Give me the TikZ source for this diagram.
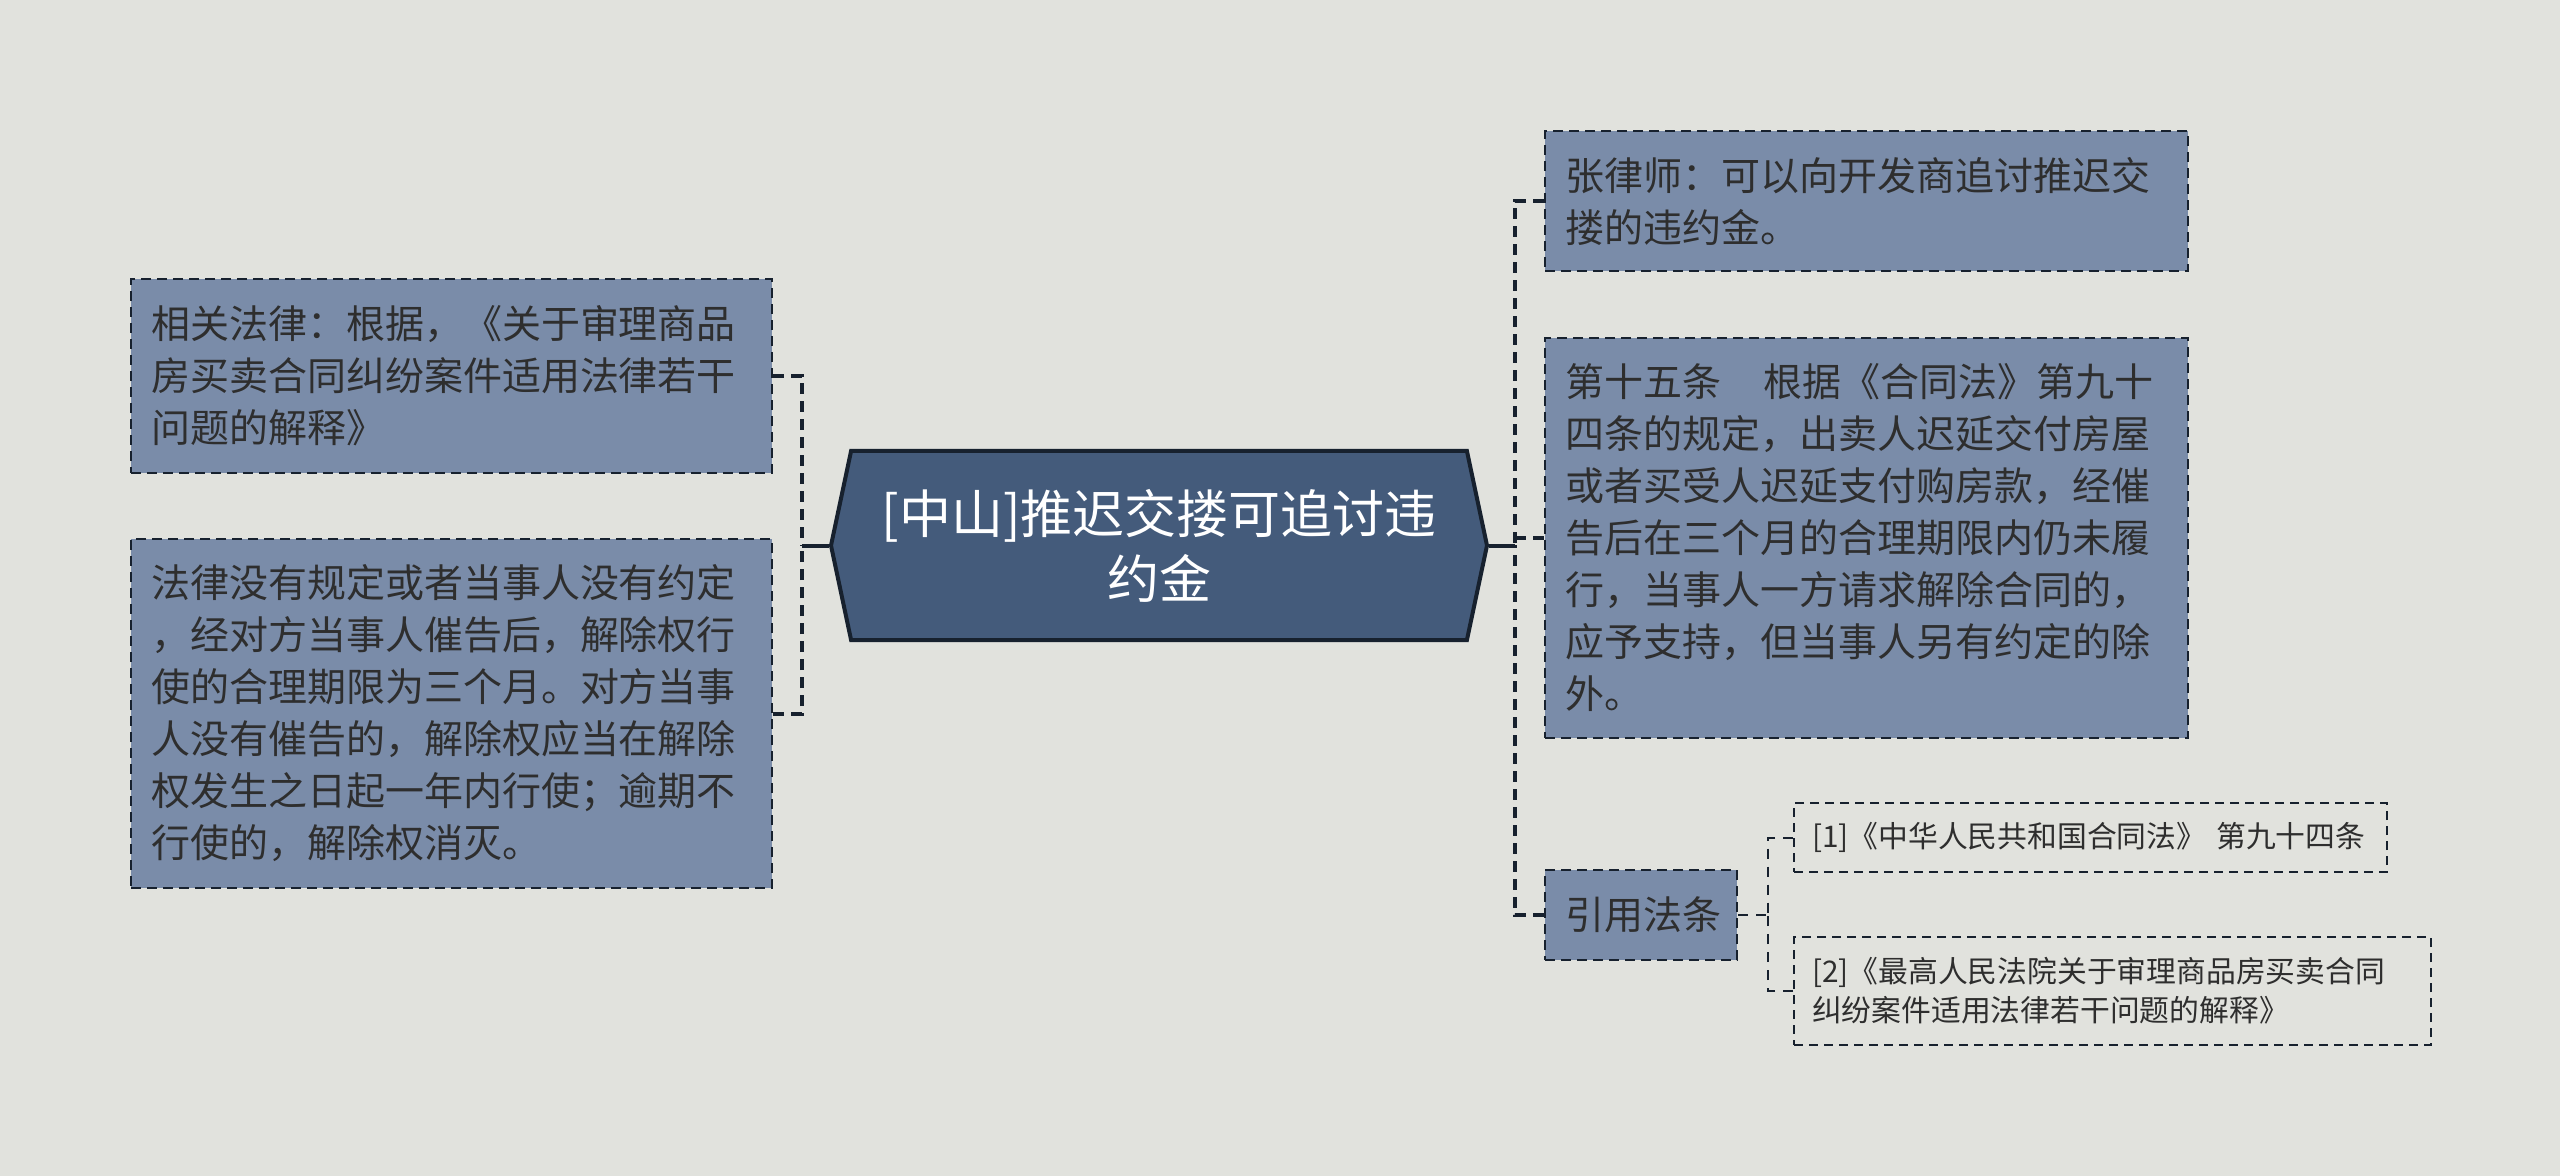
\documentclass[tikz,border=0pt]{standalone}
\usepackage{xcolor}
\usepackage{fontspec}
\setmainfont{Noto Sans CJK SC}
\usepackage{tikz}
\usetikzlibrary{positioning}
\usetikzlibrary{shapes.symbols}

\definecolor{paper}{HTML}{E1E2DD}
\definecolor{boxfill}{HTML}{7A8CA9}
\definecolor{rootfill}{HTML}{445B7B}
\definecolor{edge}{HTML}{17212E}
\definecolor{ink}{HTML}{2E2E2E}

\begin{document}
\begin{tikzpicture}[x=0.5pt,y=-0.5pt,
	leaf/.style={draw=edge,fill=boxfill,line width=1.4pt,dash pattern=on 5pt off 3pt,text=ink,font=\fontsize{19.5pt}{26pt}\selectfont,align=left,inner xsep=10pt,inner ysep=0pt},
	cite/.style={draw=edge,line width=1pt,dash pattern=on 4.5pt off 3pt,text=ink,font=\fontsize{14.9pt}{19.5pt}\selectfont,align=left,inner xsep=9pt,inner ysep=0pt},
	link/.style={draw=edge,line width=2pt,dash pattern=on 5.5pt off 3.5pt},
	sublink/.style={draw=edge,line width=1pt,dash pattern=on 5pt off 4pt},
	stem/.style={draw=edge,line width=2pt}]
	  \fill[paper] (0,0) rectangle (2560,1176);
	  \useasboundingbox (0,0) rectangle (2560,1176);
	  % root
	  \node (C) [shape=signal,signal to=west and east,signal pointer angle=156,draw=edge,fill=rootfill,line width=2pt,minimum width=328pt,minimum height=94.5pt,text=white,align=center,font=\fontsize{26pt}{32.5pt}\selectfont] at (1159,545.5) {[中山]推迟交搂可追讨违\\约金};
	  % left side
	  \node (L1) [leaf,text width=300.5pt,minimum height=97pt] at (451.5,376) {相关法律：根据，《关于审理商品\\房买卖合同纠纷案件适用法律若干\\问题的解释》};
	  \node (L2) [leaf,text width=300.5pt,minimum height=174.5pt] at (451.5,713.5) {法律没有规定或者当事人没有约定\\，经对方当事人催告后，解除权行\\使的合理期限为三个月。对方当事\\人没有催告的，解除权应当在解除\\权发生之日起一年内行使；逾期不\\行使的，解除权消灭。};
	  % right side
	  \node (R1) [leaf,text width=301.5pt,minimum height=70pt] at (1866.5,201) {张律师：可以向开发商追讨推迟交\\搂的违约金。};
	  \node (R2) [leaf,text width=301.5pt,minimum height=200pt] at (1866.5,538) {第十五条\hspace{1.1em}根据《合同法》第九十\\四条的规定，出卖人迟延交付房屋\\或者买受人迟延支付购房款，经催\\告后在三个月的合理期限内仍未履\\行，当事人一方请求解除合同的，\\应予支持，但当事人另有约定的除\\外。};
	  \node (R3) [leaf,text width=76pt,minimum height=45pt] at (1641,915) {引用法条};
	  \node (S1) [cite,text width=278.5pt,minimum height=34.5pt] at (2090.5,837.5) {[1]《中华人民共和国合同法》~第九十四条};
	  \node (S2) [cite,text width=300.5pt,minimum height=54pt] at (2112.5,991) {[2]《最高人民法院关于审理商品房买卖合同\\纠纷案件适用法律若干问题的解释》};
	  % joints
	  \coordinate (LB) at (802,545.5);
	  \coordinate (RB) at (1515,545.5);
	  \coordinate (SB) at (1768,915);
	  \draw[stem] (C.west) -- (LB);
	  \draw[stem] (C.east) -- (RB);
	  \draw[link] (L1.east) -| (LB);
	  \draw[link] (L2.east) -| (LB);
	  \draw[link] (R1.west) -| (RB);
	  \draw[link] (R2.west) -| (RB);
	  \draw[link] (R3.west) -| (RB);
	  \draw[sublink] (R3.east) -- (SB);
	  \draw[sublink] (S1.west) -| (SB);
	  \draw[sublink] (S2.west) -| (SB);
	\end{tikzpicture}
\end{document}
